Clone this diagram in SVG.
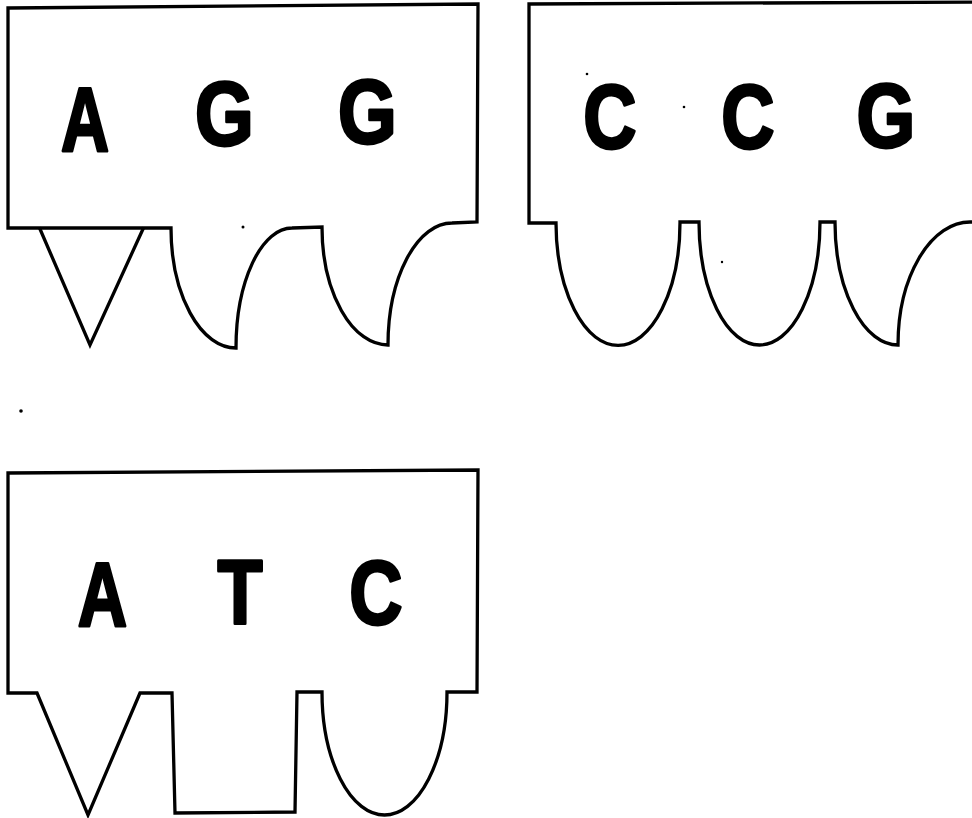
<svg xmlns="http://www.w3.org/2000/svg" width="972" height="818" viewBox="0 0 972 818">
  <style>
    .outline { fill: none; stroke: #000; stroke-width: 3.3; stroke-linejoin: miter; stroke-linecap: square; }
    .base { font-family: "Liberation Sans", Arial, Helvetica, sans-serif; font-weight: 700; font-size: 90px; fill: #000; stroke: #000; stroke-width: 3; stroke-linejoin: round; text-anchor: middle; }
    .speck { fill: #000; }
  </style>
  <rect width="972" height="818" fill="#fff"/>

  <g id="codon-AGG">
    <path class="outline" d="M8,8 L478,4 L477,222 L452,223 A64 122 0 0 0 388 345 A66 118 0 0 1 322 227 L292,228 A56 120 0 0 0 236 348 A65 120 0 0 1 171 228 L8,228 Z"/>
    <polyline class="outline" points="40,229 90,345 143,229"/>
    <text class="base" transform="translate(85,151) scale(0.74,1)">A</text>
    <text class="base" transform="translate(224.5,145) scale(0.84,1)">G</text>
    <text class="base" transform="translate(367.5,143) scale(0.84,1)">G</text>
  </g>

  <g id="codon-CCG">
    <path class="outline" d="M529,4 L985,2 L985,222 L970,222 A72 123 0 0 0 898 345 A63 123 0 0 1 835 222 L820,222 A60.5 123 0 0 1 699 222 L680,222 A62 123 0 0 1 556 223 L529,223 Z"/>
    <text class="base" transform="translate(610,148) scale(0.82,1)">C</text>
    <text class="base" transform="translate(748,148) scale(0.82,1)">C</text>
    <text class="base" transform="translate(886,147) scale(0.84,1)">G</text>
  </g>

  <g id="codon-ATC">
    <path class="outline" d="M8,473 L478,470 L477,692 L447,692 A62.5 123 0 0 1 322 692 L297,692 L295,812 L175,813 L172,693 L140,693 L88,815 L37,693 L8,693 Z"/>
    <text class="base" transform="translate(102.5,626) scale(0.76,1)">A</text>
    <text class="base" transform="translate(240,624) scale(0.82,1)">T</text>
    <text class="base" transform="translate(376,624) scale(0.82,1)">C</text>
  </g>

  <g id="specks">
    <circle class="speck" cx="243" cy="227" r="1.5"/>
    <circle class="speck" cx="587" cy="74" r="1.3"/>
    <circle class="speck" cx="684" cy="107" r="1.3"/>
    <circle class="speck" cx="722" cy="262" r="1.2"/>
    <circle class="speck" cx="21" cy="411" r="1.8"/>
  </g>
</svg>
